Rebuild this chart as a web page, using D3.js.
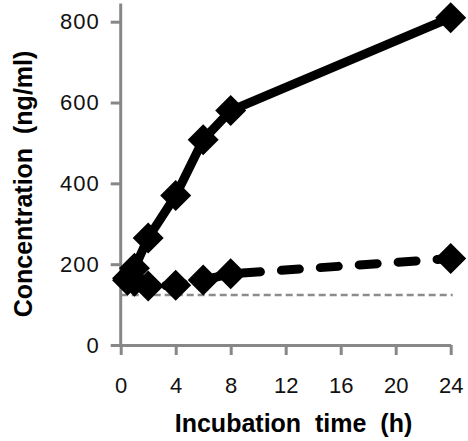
<!DOCTYPE html>
<html>
<head>
<meta charset="utf-8">
<script src="https://cdn.jsdelivr.net/npm/d3@7"></script>
<style>
  html, body { margin: 0; padding: 0; background: #fff; }
  svg { display: block; }
  text { font-family: "Liberation Sans", Arial, Helvetica, sans-serif; }
</style>
</head>
<body>
<svg id="chart" width="468" height="441"></svg>
<script>
// ---- data ----
const times = [0.5, 1, 2, 4, 6, 8, 24];
const solidValues = [165, 190, 265, 370, 508, 580, 810];
const dashedValues = [160, 158, 146, 148, 161, 176, 214];
const referenceValue = 124;
const xTicks = [0, 4, 8, 12, 16, 20, 24];
const yTicks = [0, 200, 400, 600, 800];
const xTitle = "Incubation  time  (h)";
const yTitle = "Concentration  (ng/ml)";

// ---- layout ----
const svg = d3.select("#chart");
const x = d3.scaleLinear().domain([0, 24]).range([120.7, 450.7]);
const y = d3.scaleLinear().domain([0, 800]).range([345, 21.7]);
const axisColor = "#878787";

// y axis
const yAxis = svg.append("g").attr("transform", `translate(${x(0)},0)`)
  .call(d3.axisLeft(y).tickValues(yTicks).tickSize(10).tickSizeOuter(0).tickPadding(11));
yAxis.select(".domain").remove();
yAxis.append("line").attr("x1", 0).attr("x2", 0).attr("y1", y(0)).attr("y2", y(845))
  .attr("stroke", axisColor).attr("stroke-width", 3);
yAxis.selectAll(".tick line").attr("stroke", axisColor).attr("stroke-width", 3);
yAxis.selectAll(".tick text").attr("fill", "#111").style("font-size", "22px")
  .style("letter-spacing", "1px")
  .style("font-family", '"Liberation Sans", Arial, sans-serif');

// x axis
const xAxis = svg.append("g").attr("transform", `translate(0,${y(0)})`)
  .call(d3.axisBottom(x).tickValues(xTicks).tickSize(10).tickSizeOuter(0).tickPadding(22));
xAxis.select(".domain").attr("stroke", axisColor).attr("stroke-width", 3);
xAxis.selectAll(".tick line").attr("stroke", axisColor).attr("stroke-width", 3);
xAxis.selectAll(".tick text").attr("fill", "#111").style("font-size", "22px")
  .style("font-family", '"Liberation Sans", Arial, sans-serif');

// reference line
svg.append("line")
  .attr("x1", x(0)).attr("x2", x(24) + 2)
  .attr("y1", y(referenceValue)).attr("y2", y(referenceValue))
  .attr("stroke", "#8c8c8c").attr("stroke-width", 2.5)
  .attr("stroke-dasharray", "7,4");

const line = d3.line().x(d => x(d[0])).y(d => y(d[1]));
const solidPts = times.map((t, i) => [t, solidValues[i]]);
const dashedPts = times.map((t, i) => [t, dashedValues[i]]);

svg.append("path").datum(dashedPts).attr("d", line)
  .attr("fill", "none").attr("stroke", "#000").attr("stroke-width", 9)
  .attr("stroke-linecap", "round").attr("stroke-dasharray", "18,21");
svg.append("path").datum(solidPts).attr("d", line)
  .attr("fill", "none").attr("stroke", "#000").attr("stroke-width", 9)
  .attr("stroke-linejoin", "round");

const h = 15.5;
const diamond = `M0,${-h}L${h},0L0,${h}L${-h},0Z`;
function markers(pts) {
  svg.append("g").selectAll("path").data(pts).join("path")
    .attr("d", diamond)
    .attr("transform", d => `translate(${x(d[0])},${y(d[1])})`)
    .attr("fill", "#000");
}
markers(dashedPts);
markers(solidPts);

// titles
svg.append("text")
  .attr("x", 293.5).attr("y", 431.5)
  .attr("text-anchor", "middle")
  .style("font-size", "25px").style("font-weight", "bold").style("white-space", "pre")
  .attr("fill", "#000")
  .text(xTitle);
svg.append("text")
  .attr("transform", "translate(32,184) rotate(-90)")
  .attr("text-anchor", "middle")
  .style("font-size", "25px").style("font-weight", "bold").style("white-space", "pre")
  .attr("fill", "#000")
  .text(yTitle);
</script>
</body>
</html>
